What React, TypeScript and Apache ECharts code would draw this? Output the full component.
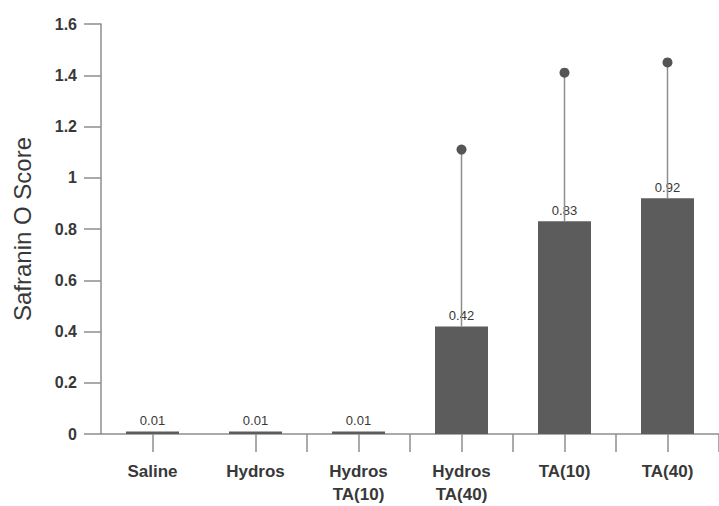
import React, { useEffect, useRef } from "react";
import * as echarts from "echarts";

const categories = ["Saline", "Hydros", "Hydros\nTA(10)", "Hydros\nTA(40)", "TA(10)", "TA(40)"];
const means = [0.01, 0.01, 0.01, 0.42, 0.83, 0.92];
const upperErrors: (number | null)[] = [null, null, null, 1.11, 1.41, 1.45];
const yMin = 0;
const yMax = 1.6;
const yInterval = 0.2;
const yTitle = "Safranin O Score";

const AXIS_GRAY = "#8e8e8e";
const TEXT = "#383838";
const BAR = "#5c5c5c";

export default function App() {
  const ref = useRef<HTMLDivElement>(null);
  useEffect(() => {
    if (!ref.current) return;
    const chart = echarts.init(ref.current, undefined, { renderer: "svg" });
    const errorData = upperErrors
      .map((u, i) => (u == null ? null : [i, means[i], u]))
      .filter((d) => d !== null);
    chart.setOption({
      animation: false,
      grid: { left: 101, top: 24, bottom: 67, right: -6, containLabel: false },
      xAxis: [
        {
          type: "category",
          data: categories,
          position: "bottom",
          axisLine: { show: true, lineStyle: { color: AXIS_GRAY, width: 1.5 } },
          axisTick: { show: true, alignWithLabel: true, length: 18, lineStyle: { color: AXIS_GRAY, width: 1.5 } },
          axisLabel: {
            interval: 0,
            margin: 26,
            color: TEXT,
            fontFamily: "Liberation Sans, Arial, sans-serif",
            fontWeight: "bold",
            fontSize: 17,
            lineHeight: 23,
          },
          splitLine: { show: false },
        },
        {
          type: "category",
          data: categories,
          position: "bottom",
          axisLine: { show: false },
          axisTick: {
            show: true,
            interval: (i: number) => i >= 2,
            length: 18,
            lineStyle: { color: AXIS_GRAY, width: 1.5 },
          },
          axisLabel: { show: false },
          splitLine: { show: false },
        },
      ],
      yAxis: {
        type: "value",
        min: yMin,
        max: yMax,
        interval: yInterval,
        name: yTitle,
        nameLocation: "middle",
        nameGap: 67,
        nameTextStyle: {
          color: TEXT,
          fontFamily: "Liberation Sans, Arial, sans-serif",
          fontSize: 24,
        },
        axisLine: { show: true, lineStyle: { color: AXIS_GRAY, width: 1.5 } },
        axisTick: { show: true, length: 17, lineStyle: { color: AXIS_GRAY, width: 1.5 } },
        axisLabel: {
          margin: 24,
          color: TEXT,
          fontFamily: "Liberation Sans, Arial, sans-serif",
          fontWeight: "bold",
          fontSize: 16,
        },
        splitLine: { show: false },
      },
      series: [
        {
          type: "bar",
          data: means,
          barWidth: 53,
          itemStyle: { color: BAR },
          label: {
            show: true,
            position: "top",
            distance: 4,
            color: TEXT,
            fontFamily: "Liberation Sans, Arial, sans-serif",
            fontSize: 13,
            formatter: (p: any) => p.value.toFixed(2),
          },
          z: 2,
        },
        {
          type: "custom",
          data: errorData,
          encode: { x: 0, y: [1, 2] },
          z: 3,
          renderItem: (params: any, api: any) => {
            const x = api.value(0);
            const lo = api.coord([x, api.value(1)]);
            const hi = api.coord([x, api.value(2)]);
            return {
              type: "group",
              children: [
                {
                  type: "line",
                  shape: { x1: lo[0], y1: lo[1], x2: hi[0], y2: hi[1] },
                  style: { stroke: AXIS_GRAY, lineWidth: 1.5 },
                },
                {
                  type: "circle",
                  shape: { cx: hi[0], cy: hi[1], r: 5 },
                  style: { fill: "#555555" },
                },
              ],
            };
          },
        },
      ],
    });
    return () => chart.dispose();
  }, []);
  return (
    <div
      ref={ref}
      style={{ position: "fixed", left: 0, top: 0, width: 719, height: 506, background: "#ffffff" }}
    />
  );
}
